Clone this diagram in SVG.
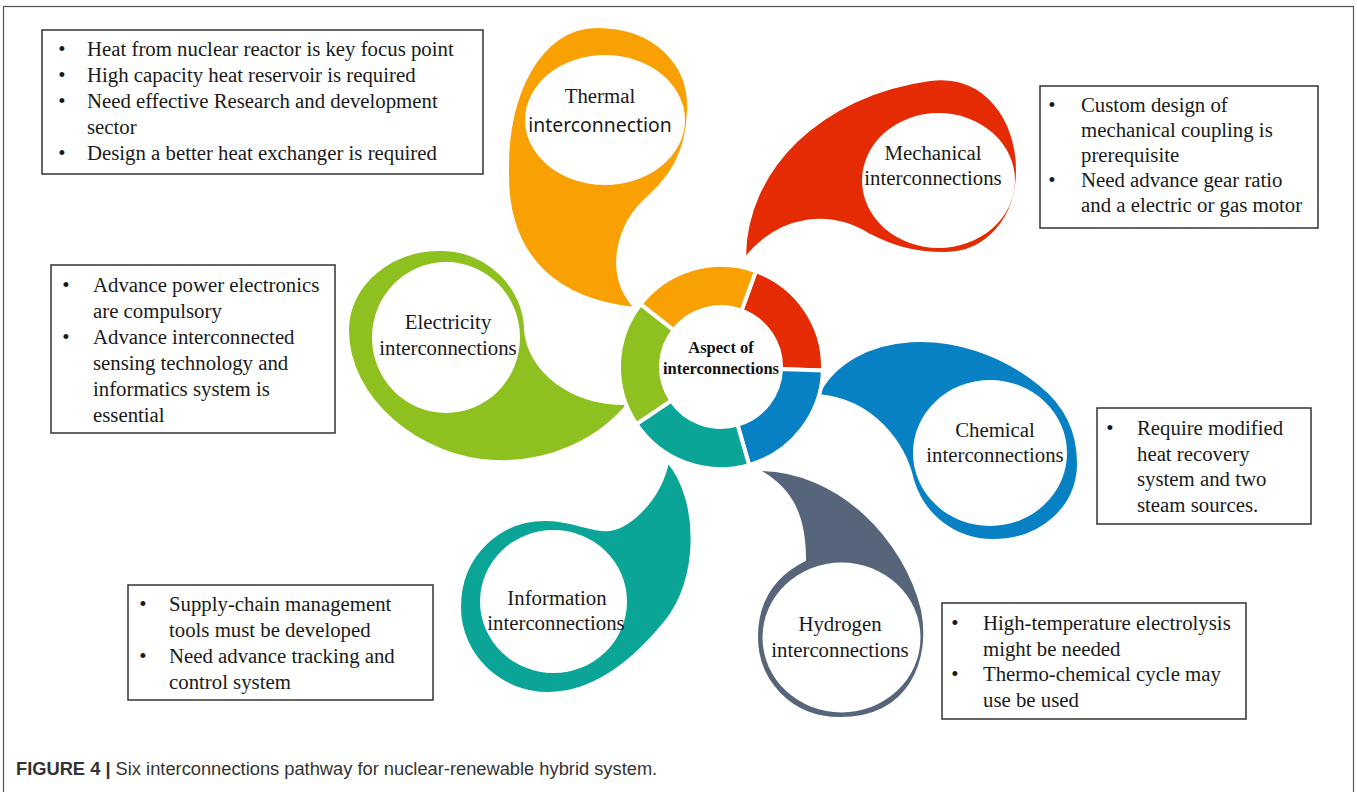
<svg xmlns="http://www.w3.org/2000/svg" width="1357" height="792" viewBox="0 0 1357 792">
<style>
.frame{fill:none;stroke:#555;stroke-width:1.2}
.seg{stroke:#fff;stroke-width:4}
.petal{stroke:#fff;stroke-width:2}
.hole{fill:#fff}
.lbl{font-family:"Liberation Serif","Times New Roman",serif;font-size:20.8px;fill:#1a1a1a;text-anchor:middle}
.ctr{font-family:"Liberation Serif","Times New Roman",serif;font-size:16.5px;font-weight:bold;fill:#111;text-anchor:middle}
.box{fill:#fff;stroke:#333;stroke-width:1.5}
.bt{font-family:"Liberation Serif","Times New Roman",serif;font-size:20.8px;fill:#1a1a1a}
.bul{text-anchor:middle}
.cap{font-family:"Liberation Sans",Arial,sans-serif;font-size:18.3px;fill:#333}
.orange{fill:#F9A003}.red{fill:#E42B03}.blue{fill:#0880C4}.teal{fill:#0AA596}.green{fill:#8EC11F}.slate{fill:#566579}
</style>
<rect class="frame" x="3.5" y="6.5" width="1350" height="800"/>
<g id="connectors"/>
<g id="thermal">
<path class="petal orange" d="M 635,308 C 560,300 508,260 508,175 C 506,95 540,27 597,27 C 655,27 690,65 688,110 C 687,150 672,175 650,195 C 615,225 605,275 635,308 Z"/>
<ellipse class="hole" cx="605" cy="120" rx="80" ry="65"/>
<text class="lbl" x="600" y="103">Thermal</text>
<text class="lbl" x="600" y="132" style="font-family:'Noto Sans','Open Sans',sans-serif;font-size:19.4px">interconnection</text>
</g>
<g id="mechanical">
<path class="petal red" d="M 745,258 C 745,170 820,95 930,80 C 985,73 1017,120 1017,170 C 1017,220 985,253 945,253 C 910,253 890,245 870,235 C 830,210 780,215 745,258 Z"/>
<ellipse class="hole" cx="938.5" cy="180.5" rx="76.5" ry="67.5"/>
<text class="lbl" x="933" y="160">Mechanical</text>
<text class="lbl" x="933" y="185">interconnections</text>
</g>
<g id="chemical">
<path class="petal blue" d="M 818,395 C 850,330 960,320 1040,385 C 1065,405 1078,430 1078,463 C 1078,508 1040,540 993,540 C 960,540 925,520 913,480 C 905,445 875,400 818,395 Z"/>
<ellipse class="hole" cx="990" cy="453" rx="77" ry="73"/>
<text class="lbl" x="995" y="437">Chemical</text>
<text class="lbl" x="995" y="462">interconnections</text>
</g>
<g id="hydrogen">
<path class="petal slate" d="M 758,470 C 840,470 905,540 922,610 C 932,660 910,718 840,718 C 790,718 757,680 757,637 C 757,600 775,575 805,560 C 805,520 795,490 758,470 Z"/>
<ellipse class="hole" cx="841.5" cy="637.5" rx="79" ry="75"/>
<text class="lbl" x="840" y="631">Hydrogen</text>
<text class="lbl" x="840" y="657">interconnections</text>
</g>
<g id="information">
<path class="petal teal" d="M 668,462 C 700,500 700,580 665,622 C 630,665 590,693 548,693 C 500,693 460,655 460,607 C 460,555 500,520 545,520 C 575,520 590,532 610,530 C 630,527 660,500 668,462 Z"/>
<ellipse class="hole" cx="553.5" cy="601.5" rx="73.5" ry="71.5"/>
<text class="lbl" x="557" y="605">Information</text>
<text class="lbl" x="556" y="630">interconnections</text>
</g>
<g id="electricity">
<path class="petal green" d="M 628,404 C 598,440 550,463 495,461 C 420,458 348,400 348,330 C 348,285 390,250 440,250 C 490,250 525,290 525,330 C 528,370 570,405 628,404 Z"/>
<ellipse class="hole" cx="446" cy="337.5" rx="74" ry="75.5"/>
<text class="lbl" x="448" y="329">Electricity</text>
<text class="lbl" x="448" y="355">interconnections</text>
</g>
<g id="center">
<path class="seg red" d="M 755.89,271.15 A 102 102 0 0 1 822.94,370.56 L 780.96,369.09 A 60 60 0 0 0 741.52,310.62 Z"/>
<path class="seg blue" d="M 822.94,370.56 A 102 102 0 0 1 749.12,465.05 L 737.54,424.68 A 60 60 0 0 0 780.96,369.09 Z"/>
<path class="seg teal" d="M 749.12,465.05 A 102 102 0 0 1 636.44,424.04 L 671.26,400.55 A 60 60 0 0 0 737.54,424.68 Z"/>
<path class="seg green" d="M 636.44,424.04 A 102 102 0 0 1 640.62,304.20 L 673.72,330.06 A 60 60 0 0 0 671.26,400.55 Z"/>
<path class="seg orange" d="M 640.62,304.20 A 102 102 0 0 1 755.89,271.15 L 741.52,310.62 A 60 60 0 0 0 673.72,330.06 Z"/>
<text class="ctr" x="721" y="353">Aspect of</text>
<text class="ctr" x="721" y="374">interconnections</text>
</g>
<g id="thermal-notes">
<rect class="box" x="42" y="30" width="441" height="144"/>
<text class="bt bul" x="62" y="56">•</text><text class="bt" x="87" y="56">Heat from nuclear reactor is key focus point</text>
<text class="bt bul" x="62" y="82">•</text><text class="bt" x="87" y="82">High capacity heat reservoir is required</text>
<text class="bt bul" x="62" y="108">•</text><text class="bt" x="87" y="108">Need effective Research and development</text>
<text class="bt" x="87" y="134">sector</text>
<text class="bt bul" x="62" y="160">•</text><text class="bt" x="87" y="160">Design a better heat exchanger is required</text>
</g>
<g id="mechanical-notes">
<rect class="box" x="1040" y="86" width="278" height="142"/>
<text class="bt bul" x="1052" y="112">•</text><text class="bt" x="1081" y="112">Custom design of</text>
<text class="bt" x="1081" y="137">mechanical coupling is</text>
<text class="bt" x="1081" y="162">prerequisite</text>
<text class="bt bul" x="1052" y="187">•</text><text class="bt" x="1081" y="187">Need advance gear ratio</text>
<text class="bt" x="1081" y="212">and a electric or gas motor</text>
</g>
<g id="electricity-notes">
<rect class="box" x="51" y="265" width="284" height="168"/>
<text class="bt bul" x="66" y="292">•</text><text class="bt" x="93" y="292">Advance power electronics</text>
<text class="bt" x="93" y="318">are compulsory</text>
<text class="bt bul" x="66" y="344">•</text><text class="bt" x="93" y="344">Advance interconnected</text>
<text class="bt" x="93" y="370">sensing technology and</text>
<text class="bt" x="93" y="396">informatics system is</text>
<text class="bt" x="93" y="422">essential</text>
</g>
<g id="chemical-notes">
<rect class="box" x="1097" y="408" width="214" height="116"/>
<text class="bt bul" x="1110" y="435">•</text><text class="bt" x="1137" y="435">Require modified</text>
<text class="bt" x="1137" y="460.5">heat recovery</text>
<text class="bt" x="1137" y="486">system and two</text>
<text class="bt" x="1137" y="511.5">steam sources.</text>
</g>
<g id="information-notes">
<rect class="box" x="128" y="585" width="305" height="115"/>
<text class="bt bul" x="143" y="611">•</text><text class="bt" x="169" y="611">Supply-chain management</text>
<text class="bt" x="169" y="637">tools must be developed</text>
<text class="bt bul" x="143" y="663">•</text><text class="bt" x="169" y="663">Need advance tracking and</text>
<text class="bt" x="169" y="689">control system</text>
</g>
<g id="hydrogen-notes">
<rect class="box" x="942" y="603" width="304" height="116"/>
<text class="bt bul" x="955" y="630">•</text><text class="bt" x="983" y="630">High-temperature electrolysis</text>
<text class="bt" x="983" y="655.5">might be needed</text>
<text class="bt bul" x="955" y="681">•</text><text class="bt" x="983" y="681">Thermo-chemical cycle may</text>
<text class="bt" x="983" y="706.5">use be used</text>
</g>
<g id="caption">
<text class="cap" x="16" y="775"><tspan font-weight="bold">FIGURE 4 |</tspan> Six interconnections pathway for nuclear-renewable hybrid system.</text>
</g>
</svg>
